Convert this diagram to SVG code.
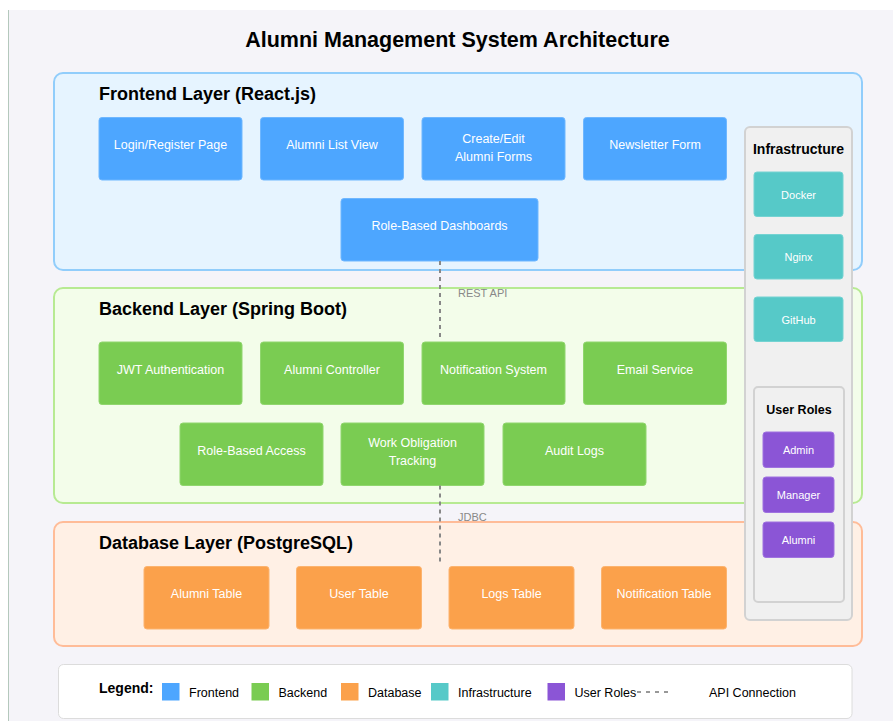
<svg xmlns="http://www.w3.org/2000/svg" width="893" height="721" viewBox="0 0 893 721">
<style>
text{font-family:"Liberation Sans",Arial,Helvetica,sans-serif}
.t{font-size:12.5px;fill:#fff;text-anchor:middle}
.s{font-size:11px;fill:#fff;text-anchor:middle}
.h{font-size:18px;font-weight:bold;fill:#000}
.fe{fill:#4da6ff;stroke:#6fb7ff;stroke-width:1}
.be{fill:#7acc52;stroke:#90d66e;stroke-width:1}
.db{fill:#fba14b;stroke:#fcb36e;stroke-width:1}
.inf{fill:#56c9c8;stroke:#74d3d2;stroke-width:1}
.role{fill:#8b55d6;stroke:#a073e0;stroke-width:1}
.conn{stroke:#888;stroke-width:2;stroke-dasharray:4,4;fill:none}
.lbl{font-size:11px;fill:#888}
.lg{font-size:12.5px;fill:#000}
</style>
<rect x="0" y="0" width="893" height="721" fill="#fff"/>
<rect x="8" y="10" width="885" height="711" fill="#f5f4f9"/>
<line x1="8.5" y1="10" x2="8.5" y2="721" stroke="#b4c8bc" stroke-width="1"/>
<text x="457.5" y="47" font-size="21.5" font-weight="bold" text-anchor="middle" fill="#000">Alumni Management System Architecture</text>

<g id="frontend-layer">
<rect x="54" y="73" width="808" height="197" rx="9" fill="#e6f4ff" stroke="#91cdfb" stroke-width="2"/>
<text class="h" x="99" y="100">Frontend Layer (React.js)</text>
</g>
<g id="backend-layer">
<rect x="54" y="288" width="808" height="215" rx="9" fill="#f3fdea" stroke="#b7ea92" stroke-width="2"/>
<text class="h" x="99" y="315">Backend Layer (Spring Boot)</text>
</g>
<g id="database-layer">
<rect x="54" y="522" width="808" height="124" rx="9" fill="#fff0e5" stroke="#ffbc98" stroke-width="2"/>
<text class="h" x="99" y="549">Database Layer (PostgreSQL)</text>
</g>

<g id="login"><rect class="fe" x="99" y="117.5" width="143" height="62.5" rx="3"/><text class="t" x="170.5" y="149">Login/Register Page</text></g>
<g id="alumni-list"><rect class="fe" x="260.5" y="117.5" width="143" height="62.5" rx="3"/><text class="t" x="332" y="149">Alumni List View</text></g>
<g id="create-edit"><rect class="fe" x="422" y="117.5" width="143" height="62.5" rx="3"/><text class="t" x="493.5" y="143">Create/Edit</text><text class="t" x="493.5" y="160.5">Alumni Forms</text></g>
<g id="newsletter"><rect class="fe" x="583.5" y="117.5" width="143" height="62.5" rx="3"/><text class="t" x="655" y="149">Newsletter Form</text></g>
<g id="dashboards"><rect class="fe" x="341" y="198.5" width="197" height="62.5" rx="3"/><text class="t" x="439.5" y="230">Role-Based Dashboards</text></g>

<g id="jwt"><rect class="be" x="99" y="342" width="143" height="62.5" rx="3"/><text class="t" x="170.5" y="374">JWT Authentication</text></g>
<g id="alumni-controller"><rect class="be" x="260.5" y="342" width="143" height="62.5" rx="3"/><text class="t" x="332" y="374">Alumni Controller</text></g>
<g id="notification-system"><rect class="be" x="422" y="342" width="143" height="62.5" rx="3"/><text class="t" x="493.5" y="374">Notification System</text></g>
<g id="email-service"><rect class="be" x="583.5" y="342" width="143" height="62.5" rx="3"/><text class="t" x="655" y="374">Email Service</text></g>
<g id="role-access"><rect class="be" x="180" y="423" width="143" height="62.5" rx="3"/><text class="t" x="251.5" y="454.5">Role-Based Access</text></g>
<g id="work-obligation"><rect class="be" x="341" y="423" width="143" height="62.5" rx="3"/><text class="t" x="412.5" y="447">Work Obligation</text><text class="t" x="412.5" y="464.5">Tracking</text></g>
<g id="audit-logs"><rect class="be" x="503" y="423" width="143" height="62.5" rx="3"/><text class="t" x="574.5" y="454.5">Audit Logs</text></g>

<g id="alumni-table"><rect class="db" x="144" y="566.5" width="125" height="62.5" rx="3"/><text class="t" x="206.5" y="598">Alumni Table</text></g>
<g id="user-table"><rect class="db" x="296.5" y="566.5" width="125" height="62.5" rx="3"/><text class="t" x="359" y="598">User Table</text></g>
<g id="logs-table"><rect class="db" x="449" y="566.5" width="125" height="62.5" rx="3"/><text class="t" x="511.5" y="598">Logs Table</text></g>
<g id="notification-table"><rect class="db" x="601.5" y="566.5" width="125" height="62.5" rx="3"/><text class="t" x="664" y="598">Notification Table</text></g>

<g id="infrastructure">
<rect x="745" y="127" width="107" height="493" rx="5" fill="#f0f0f0" stroke="#d2d2d2" stroke-width="2"/>
<text x="798.5" y="154" font-size="14" font-weight="bold" text-anchor="middle" fill="#000">Infrastructure</text>
</g>
<g id="docker"><rect class="inf" x="754" y="172" width="89" height="44.5" rx="3"/><text class="s" x="798.5" y="198.5">Docker</text></g>
<g id="nginx"><rect class="inf" x="754" y="234.5" width="89" height="44.5" rx="3"/><text class="s" x="798.5" y="261">Nginx</text></g>
<g id="github"><rect class="inf" x="754" y="297" width="89" height="44.5" rx="3"/><text class="s" x="798.5" y="323.5">GitHub</text></g>

<g id="user-roles">
<rect x="754" y="387" width="90" height="215" rx="4" fill="#f0f0f0" stroke="#d2d2d2" stroke-width="2"/>
<text x="799" y="414" font-size="12.5" font-weight="bold" text-anchor="middle" fill="#000">User Roles</text>
</g>
<g id="admin"><rect class="role" x="763" y="432" width="71" height="35.5" rx="3"/><text class="s" x="798.5" y="454">Admin</text></g>
<g id="manager"><rect class="role" x="763" y="477" width="71" height="35.5" rx="3"/><text class="s" x="798.5" y="499">Manager</text></g>
<g id="alumni-role"><rect class="role" x="763" y="522" width="71" height="35.5" rx="3"/><text class="s" x="798.5" y="544">Alumni</text></g>

<g id="connectors">
<line class="conn" x1="440" y1="261" x2="440" y2="338"/>
<text class="lbl" x="458" y="297">REST API</text>
<line class="conn" x1="440" y1="485.5" x2="440" y2="562"/>
<text class="lbl" x="458" y="521">JDBC</text>
</g>

<g id="legend">
<rect x="58.5" y="664.5" width="793.5" height="54" rx="5" fill="#fff" stroke="#dcdcdc" stroke-width="1"/>
<text x="99" y="692.5" font-size="14" font-weight="bold" fill="#000">Legend:</text>
<rect x="162" y="683" width="17.5" height="17.5" fill="#4da6ff"/><text class="lg" x="189" y="697">Frontend</text>
<rect x="251.5" y="683" width="17.5" height="17.5" fill="#7acc52"/><text class="lg" x="278.5" y="697">Backend</text>
<rect x="341" y="683" width="17.5" height="17.5" fill="#fba14b"/><text class="lg" x="368" y="697">Database</text>
<rect x="431" y="683" width="17.5" height="17.5" fill="#56c9c8"/><text class="lg" x="458" y="697">Infrastructure</text>
<rect x="547.5" y="683" width="17.5" height="17.5" fill="#8b55d6"/><text class="lg" x="574.5" y="697">User Roles</text>
<line x1="637" y1="692" x2="669" y2="692" stroke="#777" stroke-width="1.3" stroke-dasharray="4,5"/>
<text class="lg" x="709" y="697">API Connection</text>
</g>
</svg>
